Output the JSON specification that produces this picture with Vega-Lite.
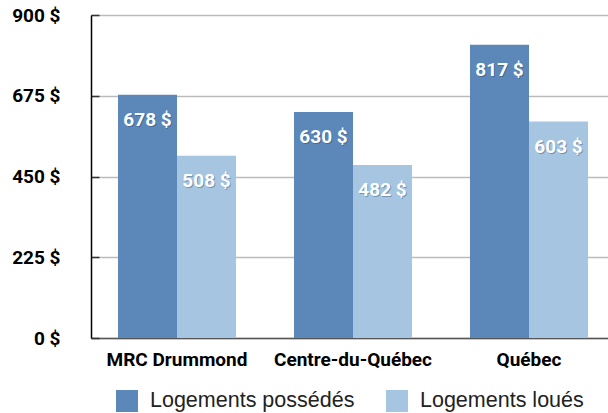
{
  "$schema": "https://vega.github.io/schema/vega-lite/v6.json",
  "width": 517,
  "height": 323,
  "autosize": {"type": "none"},
  "padding": {"left": 91, "top": 15, "right": 0, "bottom": 75},
  "background": "white",
  "config": {
    "view": {"stroke": null},
    "font": "Liberation Sans"
  },
  "data": {
    "values": [
      {"region": "MRC Drummond", "type": "Logements possédés", "value": 678},
      {"region": "MRC Drummond", "type": "Logements loués", "value": 508},
      {"region": "Centre-du-Québec", "type": "Logements possédés", "value": 630},
      {"region": "Centre-du-Québec", "type": "Logements loués", "value": 482},
      {"region": "Québec", "type": "Logements possédés", "value": 817},
      {"region": "Québec", "type": "Logements loués", "value": 603}
    ]
  },
  "transform": [{"calculate": "datum.value + ' $'", "as": "label"}],
  "encoding": {
    "x": {
      "field": "region",
      "type": "nominal",
      "sort": ["MRC Drummond", "Centre-du-Québec", "Québec"],
      "scale": {"range": [0, 524], "paddingInner": 0.3295, "paddingOuter": 0.1534},
      "axis": {
        "title": null,
        "labelAngle": 0,
        "ticks": false,
        "domainColor": "#555555",
        "domainWidth": 1.5,
        "labelFont": "Roboto",
        "labelFontWeight": "bold",
        "labelFontSize": 19,
        "labelColor": "#000000",
        "labelPadding": 12,
        "grid": false
      }
    },
    "xOffset": {
      "field": "type",
      "type": "nominal",
      "sort": ["Logements possédés", "Logements loués"]
    },
    "y": {
      "field": "value",
      "type": "quantitative",
      "scale": {"domain": [0, 900], "nice": false},
      "axis": {
        "title": null,
        "values": [0, 225, 450, 675, 900],
        "labelExpr": "datum.label + ' $'",
        "labelFont": "Roboto",
        "labelFontWeight": "bold",
        "labelFontSize": 19,
        "labelColor": "#000000",
        "tickSize": -8,
        "tickColor": "#333333",
        "tickWidth": 1.5,
        "labelPadding": 39,
        "domainColor": "#000000",
        "domainWidth": 1.5,
        "gridColor": "#bbbbbb",
        "gridWidth": 1.5
      }
    }
  },
  "layer": [
    {
      "mark": {"type": "bar"},
      "encoding": {
        "color": {
          "field": "type",
          "type": "nominal",
          "sort": ["Logements possédés", "Logements loués"],
          "scale": {"domain": ["Logements possédés", "Logements loués"], "range": ["#5b87b9", "#a5c5e1"]},
          "legend": {
            "title": null,
            "orient": "none",
            "legendX": 25,
            "legendY": 375,
            "direction": "horizontal",
            "symbolType": "square",
            "symbolSize": 484,
            "symbolStrokeWidth": 0,
            "symbolOpacity": 1,
            "labelFont": "Liberation Sans",
            "labelFontSize": 21.5,
            "labelColor": "#222222",
            "labelOffset": 12,
            "columnPadding": 31,
            "labelLimit": 400
          }
        }
      }
    },
    {
      "mark": {"type": "text", "baseline": "middle", "align": "center", "dy": 26, "dx": 1, "color": "#1f3550", "opacity": 0.35, "font": "Roboto", "fontWeight": "bold", "fontSize": 19},
      "encoding": {"text": {"field": "label"}}
    },
    {
      "mark": {"type": "text", "baseline": "middle", "align": "center", "dy": 25, "color": "white", "font": "Roboto", "fontWeight": "bold", "fontSize": 19},
      "encoding": {"text": {"field": "label"}}
    }
  ]
}
